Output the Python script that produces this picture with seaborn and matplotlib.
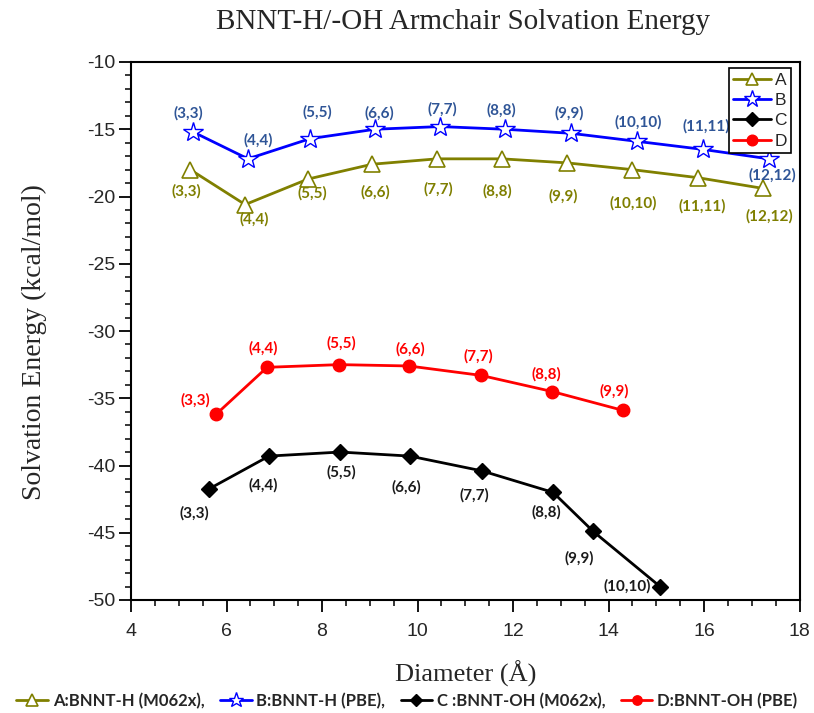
import matplotlib
matplotlib.use("Agg")
import matplotlib.pyplot as plt
from matplotlib.ticker import MultipleLocator
import seaborn as sns
import pandas as pd

# ---- data ----
a_x = [5.24, 6.39, 7.71, 9.05, 10.41, 11.77, 13.13, 14.49, 15.87, 17.24]
a_y = [-18.0, -20.6, -18.7, -17.6, -17.2, -17.2, -17.5, -18.0, -18.6, -19.4]
b_x = [5.30, 6.45, 7.75, 9.11, 10.47, 11.83, 13.21, 14.60, 15.98, 17.36]
b_y = [-15.2, -17.2, -15.7, -15.0, -14.8, -15.0, -15.3, -15.9, -16.5, -17.2]
c_x = [5.63, 6.89, 8.38, 9.84, 11.35, 12.84, 13.68, 15.08]
c_y = [-41.75, -39.3, -39.0, -39.3, -40.4, -42.0, -44.9, -49.0]
d_x = [5.78, 6.85, 8.36, 9.82, 11.33, 12.82, 14.30]
d_y = [-36.2, -32.7, -32.5, -32.6, -33.3, -34.5, -35.9]

ab_labels = ["(3,3)", "(4,4)", "(5,5)", "(6,6)", "(7,7)", "(8,8)", "(9,9)",
             "(10,10)", "(11,11)", "(12,12)"]
c_labels = ab_labels[:8]
d_labels = ab_labels[:7]

series_names = ["A", "B", "C", "D"]
bottom_labels = ["A:BNNT-H (M062x),", "B:BNNT-H (PBE),", "C :BNNT-OH (M062x),", "D:BNNT-OH (PBE)"]

x_ticks = [4, 6, 8, 10, 12, 14, 16, 18]
y_ticks = [-50, -45, -40, -35, -30, -25, -20, -15, -10]

# label offsets in pixels (layout)
a_off = [(-4, 22), (9, 15), (4, 14), (3, 28), (1, 30), (-5, 32), (-4, 33), (1, 34), (4, 29), (6, 28)]
b_off = [(-5, -19), (10, -19), (7, -26), (4, -16), (2, -17), (-4, -19), (-2, -20), (1, -19), (3, -23), (3, 16)]
c_off = [(-14, 24), (-6, 29), (1, 20), (-3, 31), (-8, 24), (-7, 20), (-14, 27), (-33, 0)]
d_off = [(-21, -14), (-4, -19), (2, -21), (1, -17), (-3, -19), (-6, -17), (-9, -19)]

# ---- style ----
sns.set_style("ticks")
plt.rcParams["font.family"] = ["Liberation Sans", "DejaVu Sans"]
plt.rcParams["axes.unicode_minus"] = False

fig = plt.figure(figsize=(8.14, 7.13), dpi=100)
ax = fig.add_axes([131 / 814, 1 - 600 / 713, (799.5 - 131) / 814, (600 - 62) / 713])

olive = "#808000"
specs = [
    (a_x, a_y, "A", dict(color=olive, marker="^", markerfacecolor="white",
                         markeredgecolor=olive, markersize=11, markeredgewidth=1.2)),
    (b_x, b_y, "B", dict(color="#0000FF", marker="*", markerfacecolor="white",
                         markeredgecolor="#0000FF", markersize=15, markeredgewidth=1.0)),
    (c_x, c_y, "C", dict(color="black", marker="D", markerfacecolor="black",
                         markeredgecolor="black", markersize=8.5, markeredgewidth=1.0)),
    (d_x, d_y, "D", dict(color="#FF0000", marker="o", markerfacecolor="#FF0000",
                         markeredgecolor="#FF0000", markersize=9, markeredgewidth=1.0)),
]
handles = []
for xs, ys, name, kw in specs:
    df = pd.DataFrame({"x": xs, "y": ys})
    sns.lineplot(data=df, x="x", y="y", ax=ax, linewidth=2, label=name, **kw)
    handles.append(ax.get_lines()[-1])

ann_font = ["Lato", "DejaVu Sans"]
for xs, ys, labs, offs, col in [
    (a_x, a_y, ab_labels, a_off, "#7F7F00"),
    (b_x, b_y, ab_labels, b_off, "#2F5597"),
    (c_x, c_y, c_labels, c_off, "#1A1A1A"),
    (d_x, d_y, d_labels, d_off, "#FF0000"),
]:
    for x, y, t, (dx, dy) in zip(xs, ys, labs, offs):
        ax.annotate(t, (x, y), xytext=(dx, -dy), textcoords="offset pixels",
                    ha="center", va="center", fontsize=11, fontweight="bold",
                    color=col, family=ann_font)

ax.set_xlim(4, 18)
ax.set_ylim(-50, -10)
ax.set_xticks(x_ticks)
ax.set_yticks(y_ticks)
ax.xaxis.set_minor_locator(MultipleLocator(0.5))
ax.yaxis.set_minor_locator(MultipleLocator(1))
ax.tick_params(axis="both", which="major", length=8.5, width=1.3, labelsize=14,
               color="black", direction="out")
ax.tick_params(axis="x", which="major", pad=8)
ax.tick_params(axis="y", which="major", pad=3)
ax.tick_params(axis="both", which="minor", length=4.3, width=1.1, color="black", direction="out")
ax.tick_params(top=False, right=False, which="both")
for s in ax.spines.values():
    s.set_visible(True)
    s.set_linewidth(1.5)
    s.set_color("black")

serif = ["Liberation Serif", "DejaVu Serif"]
ax.set_xlabel("Diameter (Å)", fontsize=19, family=serif)
ax.xaxis.set_label_coords(0.5, -0.113)
ax.set_ylabel("Solvation Energy (kcal/mol)", fontsize=20, family=serif)
ax.yaxis.set_label_coords(-0.125, 0.48)
fig.text(463 / 814, 1 - 22 / 713, "BNNT-H/-OH Armchair Solvation Energy",
         ha="center", va="center", fontsize=21, family=serif)

leg = ax.legend(handles=handles, labels=series_names, loc="upper right",
                bbox_to_anchor=(0.993, 0.995), fontsize=12.5, handlelength=2.2,
                labelspacing=0.3, borderpad=0.25, handletextpad=0.2,
                borderaxespad=0.2, fancybox=False, framealpha=1, edgecolor="black",
                markerscale=0.85)
leg.get_frame().set_linewidth(1.2)

fig.legend(handles=handles, labels=bottom_labels, loc="center",
           bbox_to_anchor=(0.5, 1 - 701 / 713), ncol=4, frameon=False,
           prop=dict(family=ann_font, weight="bold", size=12),
           handlelength=1.9, handletextpad=0.3, columnspacing=0.9, markerscale=0.75)

fig.savefig("out.png", dpi=100)
